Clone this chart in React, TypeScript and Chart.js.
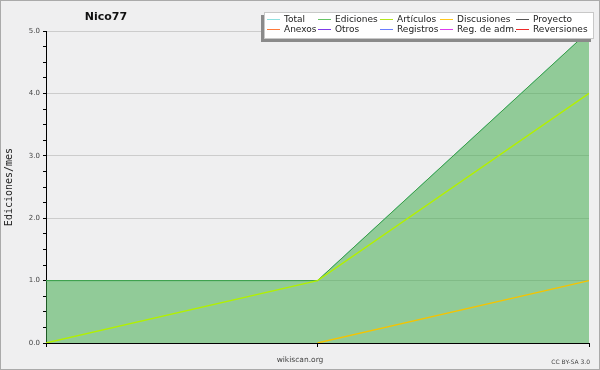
import React, { useEffect, useRef } from "react";
import { Chart, registerables } from "chart.js";

Chart.register(...registerables);

const months = ["m1", "m2", "m3"];
const totalValues = [1, 1, 5];
const edicionesValues = [1, 1, 5];
const articulosValues = [0, 1, 4];
const discusionesValues = [null, 0, 1];

const legendNames = [
  ["Total", "Ediciones", "Artículos", "Discusiones", "Proyecto"],
  ["Anexos", "Otros", "Registros", "Reg. de adm.", "Reversiones"],
];
const legendColors = [
  ["#8fe0e0", "#66c466", "#b5e61e", "#ffc81e", "#555555"],
  ["#ff7a3a", "#7f3be8", "#6a7dff", "#dd3cee", "#ee2a2a"],
];
const legendTextX = [284, 335, 397, 457, 533];
const legendRowY = [19, 29];

const BG = "#efeff0";

const decorPlugin = {
  id: "decor",
  beforeDraw(chart: any) {
    const { ctx, width, height } = chart;
    ctx.save();
    ctx.fillStyle = BG;
    ctx.fillRect(0, 0, width, height);
    ctx.strokeStyle = "#aaaaaa";
    ctx.lineWidth = 1;
    ctx.strokeRect(0.5, 0.5, width - 1, height - 1);
    ctx.restore();
  },
  afterDraw(chart: any) {
    const { ctx, chartArea } = chart;
    ctx.save();
    // title
    ctx.fillStyle = "#111";
    ctx.font = "bold 11px 'DejaVu Sans'";
    ctx.textAlign = "center";
    ctx.textBaseline = "middle";
    ctx.fillText("Nico77", 106, 17);

    // y title
    ctx.save();
    ctx.translate(9, (chartArea.top + chartArea.bottom) / 2);
    ctx.rotate(-Math.PI / 2);
    ctx.font = "10px 'DejaVu Sans Mono'";
    ctx.fillStyle = "#222";
    ctx.fillText("Ediciones/mes", 0, 0);
    ctx.restore();

    // footer
    ctx.font = "7.5px 'DejaVu Sans'";
    ctx.fillStyle = "#444";
    ctx.fillText("wikiscan.org", 300, 360);
    ctx.textAlign = "right";
    ctx.font = "6px 'DejaVu Sans'";
    ctx.fillText("CC BY-SA 3.0", 590, 362);

    // legend box with shadow
    ctx.fillStyle = "#8a8a8a";
    ctx.fillRect(261, 15, 330, 27);
    ctx.fillStyle = "#ffffff";
    ctx.fillRect(264, 12, 330, 27);
    ctx.strokeStyle = "#c8c8c8";
    ctx.lineWidth = 1;
    ctx.strokeRect(264.5, 12.5, 329, 26);

    ctx.font = "9px 'DejaVu Sans'";
    ctx.textAlign = "left";
    ctx.textBaseline = "middle";
    for (let r = 0; r < legendNames.length; r++) {
      for (let c = 0; c < legendNames[r].length; c++) {
        const tx = legendTextX[c];
        const y = legendRowY[r];
        ctx.strokeStyle = legendColors[r][c];
        ctx.lineWidth = 1;
        ctx.beginPath();
        ctx.moveTo(tx - 17, y + 0.5);
        ctx.lineTo(tx - 4, y + 0.5);
        ctx.stroke();
        ctx.fillStyle = "#222";
        ctx.fillText(legendNames[r][c], tx, y + 0.5);
      }
    }
    ctx.restore();
  },
};

export default function App() {
  const ref = useRef<HTMLCanvasElement | null>(null);
  useEffect(() => {
    document.body.style.margin = "0";
    const canvas = ref.current!;
    const chart = new Chart(canvas, {
      type: "line",
      data: {
        labels: months,
        datasets: [
          {
            label: "Total",
            data: totalValues,
            borderColor: "#8fe0e0",
            borderWidth: 1,
            pointRadius: 0,
            fill: false,
            tension: 0,
            order: 4,
          },
          {
            label: "Ediciones",
            data: edicionesValues,
            borderColor: "#3a9c45",
            backgroundColor: "rgba(60,170,70,0.52)",
            borderWidth: 1,
            pointRadius: 0,
            fill: "origin",
            tension: 0,
            order: 3,
          },
          {
            label: "Artículos",
            data: articulosValues,
            borderColor: "#b2f000",
            borderWidth: 1.3,
            pointRadius: 0,
            fill: false,
            tension: 0,
            order: 2,
          },
          {
            label: "Discusiones",
            data: discusionesValues,
            borderColor: "#f5c400",
            borderWidth: 1.3,
            pointRadius: 0,
            fill: false,
            tension: 0,
            order: 1,
          },
        ],
      },
      options: {
        animation: false,
        responsive: false,
        devicePixelRatio: 1,
        layout: { padding: { top: 31, bottom: 23, left: 0, right: 11 } },
        plugins: {
          legend: { display: false },
          tooltip: { enabled: false },
          title: { display: false },
        },
        scales: {
          x: {
            type: "category",
            offset: false,
            ticks: { display: false },
            grid: {
              drawOnChartArea: false,
              drawTicks: true,
              tickLength: 4,
              tickColor: "#000",
            },
            border: { color: "#000", width: 1 },
            afterFit(scale: any) {
              scale.height = 4;
            },
          },
          y: {
            min: 0,
            max: 5,
            ticks: {
              stepSize: 0.25,
              autoSkip: false,
              padding: 3,
              color: "#444",
              font: { family: "'DejaVu Sans'", size: 7 },
              callback: (v: any) => (Number(v) % 1 === 0 ? Number(v).toFixed(1) : ""),
            },
            grid: {
              drawTicks: true,
              tickLength: 3,
              tickColor: "#000",
              color: (c: any) =>
                c.tick && c.tick.value % 1 === 0 && c.tick.value > 0 ? "#cccccc" : "rgba(0,0,0,0)",
            },
            border: { color: "#000", width: 1 },
            afterFit(scale: any) {
              scale.width = 46;
            },
          },
        },
      },
      plugins: [decorPlugin],
    });
    return () => chart.destroy();
  }, []);
  return <canvas ref={ref} width={600} height={370} style={{ display: "block" }} />;
}
